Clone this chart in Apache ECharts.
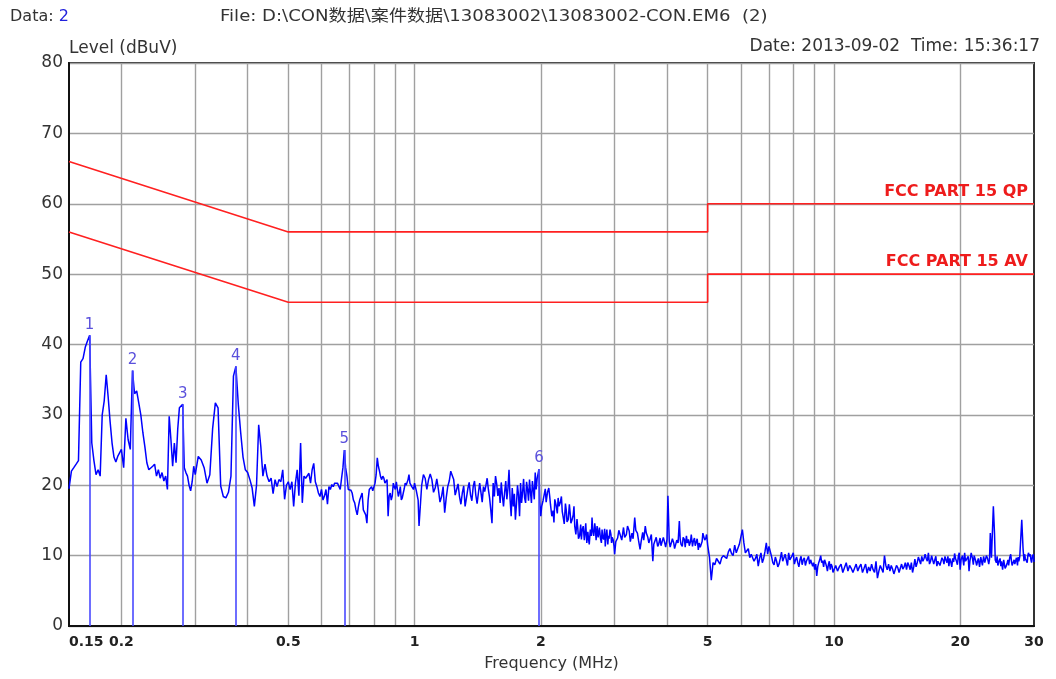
<!DOCTYPE html>
<html>
<head>
<meta charset="utf-8">
<title>Conducted emission scan</title>
<script src="https://cdn.jsdelivr.net/npm/echarts@6/dist/echarts.min.js"></script>
<style>
  html, body { margin: 0; padding: 0; background: #ffffff; }
  #chart { width: 1056px; height: 679px; }
</style>
</head>
<body>
<div id="chart"></div>
<script>
// Measured scan, [frequency MHz, level dBuV], 150 kHz - 1 MHz
const scanLow = [
  [0.150,19.5],[0.152,22.0],[0.154,22.5],[0.156,23.0],[0.158,23.5],[0.160,37.5],[0.162,38.0],[0.164,39.6],
  [0.166,40.5],[0.168,41.3],[0.170,26.0],[0.172,23.5],[0.174,21.5],[0.176,22.2],[0.178,21.3],[0.180,30.0],
  [0.182,32.0],[0.184,35.7],[0.186,32.5],[0.188,29.0],[0.190,26.0],[0.192,24.0],[0.194,23.3],[0.196,24.1],
  [0.198,24.6],[0.200,25.1],[0.2025,22.5],[0.205,29.5],[0.2075,26.5],[0.210,25.1],[0.2125,36.3],[0.215,33.0],
  [0.2175,33.4],[0.220,31.7],[0.2225,30.0],[0.225,27.5],[0.2275,25.5],[0.230,23.2],[0.2325,22.2],[0.235,22.0],
  [0.2375,22.7],[0.240,23.0],[0.2425,21.3],[0.245,22.2],[0.2475,21.0],[0.250,21.8],[0.2525,20.6],[0.255,21.3],
  [0.2575,19.4],[0.260,29.8],[0.2625,26.5],[0.265,22.7],[0.2675,26.0],[0.270,23.2],[0.2725,28.0],[0.275,31.0],
  [0.2775,31.2],[0.280,31.5],[0.2825,22.5],[0.285,21.8],[0.2875,21.3],[0.290,20.0],[0.2925,19.2],[0.295,20.5],
  [0.2975,22.7],[0.300,21.5],[0.305,24.1],[0.310,23.6],[0.315,22.5],[0.320,20.3],[0.325,21.5],[0.330,28.0],
  [0.335,31.7],[0.340,31.0],[0.345,19.9],[0.350,18.4],[0.355,18.2],[0.360,19.0],[0.365,21.3],[0.370,35.5],
  [0.375,36.9],[0.380,31.5],[0.385,27.5],[0.390,24.0],[0.395,22.2],[0.400,21.8],[0.405,20.8],[0.410,19.6],
  [0.415,17.0],[0.420,20.0],[0.425,28.6],[0.430,25.5],[0.435,21.3],[0.440,23.0],[0.445,21.3],[0.450,20.5],
  [0.455,21.0],[0.460,18.8],[0.465,20.8],[0.470,19.8],[0.475,20.8],[0.480,20.5],[0.485,22.2],[0.490,18.0],
  [0.495,20.0],[0.500,20.5],[0.505,19.4],[0.510,20.5],[0.515,17.0],[0.520,20.3],[0.525,22.2],[0.530,18.5],
  [0.535,26.0],[0.540,17.5],[0.545,21.3],[0.550,21.0],[0.555,20.8],[0.560,21.7],[0.565,20.3],[0.570,22.2],
  [0.575,23.1],[0.580,20.5],[0.585,19.8],[0.590,18.9],[0.595,18.4],[0.600,19.4],[0.605,17.9],[0.610,18.5],
  [0.615,19.4],[0.620,17.3],[0.625,19.8],[0.630,19.4],[0.635,20.1],[0.640,19.8],[0.645,20.3],[0.650,20.5],
  [0.655,20.3],[0.660,20.1],[0.665,19.4],[0.670,21.0],[0.675,22.5],[0.680,25.0],[0.685,22.5],[0.690,21.3],
  [0.695,19.4],[0.700,19.6],[0.705,19.3],[0.710,18.9],[0.715,17.9],[0.720,17.5],[0.725,16.5],[0.730,15.8],
  [0.735,17.0],[0.740,17.9],[0.745,18.4],[0.750,18.9],[0.755,16.5],[0.760,16.3],[0.765,15.8],[0.770,14.6],
  [0.775,17.9],[0.780,19.4],[0.785,19.6],[0.790,19.8],[0.795,19.2],[0.800,19.0],[0.805,20.3],[0.810,21.5],
  [0.815,23.9],[0.820,22.7],[0.825,22.0],[0.830,21.2],[0.835,20.8],[0.840,21.3],[0.845,21.0],[0.850,20.3],
  [0.855,20.5],[0.860,20.8],[0.865,15.6],[0.870,18.5],[0.875,18.9],[0.880,17.9],[0.885,18.5],[0.890,20.3],
  [0.895,19.8],[0.900,19.4],[0.905,20.5],[0.910,20.5],[0.915,18.4],[0.920,19.0],[0.925,19.8],[0.930,17.9],
  [0.935,18.2],[0.940,18.9],[0.945,19.5],[0.950,20.3],[0.955,20.0],[0.960,19.8],[0.965,20.8],[0.970,21.5],
  [0.975,20.3],[0.980,20.3],[0.985,19.8],[0.990,19.6],[0.995,19.4]
];

// Measured scan, 1 MHz - 10 MHz
const scanMid = [
  [1.00,20.3],[1.01,19.2],[1.02,17.9],[1.025,14.2],[1.04,20.0],[1.05,21.5],[1.06,21.0],[1.07,19.4],
  [1.08,20.8],[1.09,21.6],[1.10,20.8],[1.11,19.0],[1.12,19.6],[1.13,20.9],[1.14,19.4],[1.15,17.6],
  [1.16,18.4],[1.17,19.8],[1.18,16.1],[1.19,18.2],[1.20,19.8],[1.21,20.6],[1.22,22.0],[1.23,21.4],
  [1.24,20.8],[1.25,18.6],[1.26,19.4],[1.27,20.2],[1.28,18.4],[1.29,17.3],[1.30,18.9],[1.31,19.9],
  [1.32,17.0],[1.33,18.2],[1.34,19.5],[1.35,20.4],[1.36,18.6],[1.37,17.8],[1.38,19.8],[1.39,20.6],
  [1.40,18.6],[1.41,17.4],[1.42,18.9],[1.43,20.3],[1.44,19.0],[1.45,17.6],[1.46,19.8],[1.47,19.1],
  [1.48,20.0],[1.49,21.0],[1.50,19.4],[1.51,18.2],[1.52,16.5],[1.53,14.6],[1.54,20.3],[1.55,18.4],
  [1.56,21.3],[1.57,20.2],[1.58,18.5],[1.59,19.6],[1.60,17.5],[1.61,20.4],[1.62,18.5],[1.63,17.0],
  [1.64,19.0],[1.65,20.6],[1.66,18.0],[1.67,19.5],[1.68,22.2],[1.69,18.0],[1.70,15.6],[1.71,19.6],
  [1.72,17.0],[1.73,18.8],[1.74,15.1],[1.75,17.3],[1.76,20.0],[1.77,18.6],[1.78,15.6],[1.79,20.3],
  [1.80,17.5],[1.81,19.0],[1.82,20.9],[1.83,18.2],[1.84,17.5],[1.85,20.5],[1.86,19.4],[1.87,17.8],
  [1.88,20.8],[1.89,19.0],[1.90,17.5],[1.91,20.6],[1.92,19.4],[1.93,18.0],[1.94,21.8],[1.95,19.4],
  [1.96,20.9],[1.97,21.0],[1.98,22.3],[1.99,17.5],[2.00,15.6],[2.01,17.0],[2.025,17.8],[2.04,18.8],
  [2.05,19.5],[2.06,17.6],[2.075,19.0],[2.09,19.6],[2.10,18.5],[2.11,17.2],[2.125,15.6],[2.14,16.4],
  [2.15,14.7],[2.16,18.0],[2.175,17.2],[2.19,16.0],[2.20,18.2],[2.21,17.0],[2.225,17.5],[2.24,18.4],
  [2.25,16.3],[2.26,15.6],[2.275,14.5],[2.29,17.4],[2.30,16.5],[2.31,14.8],[2.325,15.1],[2.34,17.3],
  [2.35,16.1],[2.36,14.6],[2.375,15.1],[2.39,15.8],[2.40,17.0],[2.41,14.2],[2.425,13.0],[2.44,15.2],
  [2.45,14.0],[2.46,12.4],[2.475,12.8],[2.49,14.4],[2.50,12.3],[2.51,13.6],[2.525,14.2],[2.54,12.2],
  [2.55,13.2],[2.56,14.6],[2.575,11.8],[2.59,13.4],[2.60,12.3],[2.61,11.6],[2.625,13.7],[2.64,12.8],
  [2.65,15.4],[2.66,13.6],[2.675,12.8],[2.69,14.6],[2.70,13.7],[2.71,12.2],[2.725,14.2],[2.74,12.6],
  [2.75,13.2],[2.76,14.0],[2.775,12.5],[2.79,11.8],[2.80,13.7],[2.81,12.6],[2.825,12.3],[2.84,13.8],
  [2.85,11.3],[2.86,12.6],[2.875,13.7],[2.89,11.6],[2.90,12.8],[2.91,12.4],[2.925,13.7],[2.94,13.0],
  [2.95,11.8],[2.96,12.6],[2.975,12.3],[2.99,11.4],[3.00,10.2],[3.02,12.0],[3.05,12.5],[3.07,13.6],
  [3.10,13.5],[3.12,12.2],[3.15,14.0],[3.17,12.6],[3.20,13.0],[3.22,14.2],[3.25,13.5],[3.27,12.0],
  [3.30,13.2],[3.32,12.4],[3.35,15.4],[3.37,13.6],[3.40,13.2],[3.42,12.2],[3.45,10.9],[3.47,12.0],
  [3.50,13.3],[3.52,12.2],[3.55,14.2],[3.57,13.2],[3.60,12.6],[3.62,11.8],[3.65,11.8],[3.67,13.0],
  [3.70,9.2],[3.72,11.6],[3.75,11.5],[3.77,12.6],[3.80,11.3],[3.82,11.6],[3.85,12.5],[3.87,11.4],
  [3.90,11.3],[3.92,12.6],[3.95,11.8],[3.97,11.2],[4.00,12.3],[4.02,18.5],[4.05,12.0],[4.07,11.2],
  [4.10,11.3],[4.12,12.4],[4.15,11.8],[4.17,11.0],[4.20,11.1],[4.22,12.2],[4.25,11.8],[4.28,14.9],
  [4.30,12.3],[4.32,11.6],[4.35,11.3],[4.37,12.6],[4.40,12.3],[4.42,11.2],[4.45,12.8],[4.47,11.8],
  [4.50,12.3],[4.52,11.4],[4.55,12.0],[4.57,13.0],[4.60,11.3],[4.62,12.0],[4.65,12.5],[4.67,11.4],
  [4.70,11.6],[4.72,12.4],[4.75,10.8],[4.77,11.8],[4.80,11.2],[4.82,11.2],[4.85,12.0],[4.87,13.2],
  [4.90,13.0],[4.92,12.2],[4.95,12.5],[4.97,13.0],[5.00,11.5],[5.05,9.8],[5.10,6.5],[5.15,9.0],
  [5.20,8.7],[5.25,9.6],[5.30,9.2],[5.35,8.8],[5.40,9.7],[5.45,10.0],[5.50,10.2],[5.55,9.6],
  [5.60,10.5],[5.65,11.0],[5.70,10.3],[5.75,10.0],[5.80,11.5],[5.85,10.4],[5.90,10.5],[5.95,11.6],
  [6.00,11.5],[6.05,13.7],[6.10,11.8],[6.15,10.4],[6.20,10.7],[6.25,11.0],[6.30,9.7],[6.35,10.2],
  [6.40,10.4],[6.45,9.2],[6.50,9.6],[6.55,10.2],[6.60,8.5],[6.65,9.6],[6.70,10.4],[6.75,9.0],
  [6.80,9.6],[6.85,10.6],[6.90,11.8],[6.95,10.2],[7.00,11.3],[7.05,10.6],[7.10,9.9],[7.15,9.0],
  [7.20,8.7],[7.25,9.8],[7.30,9.2],[7.35,8.4],[7.40,8.8],[7.45,9.6],[7.50,10.5],[7.55,9.2],
  [7.60,9.2],[7.65,10.2],[7.70,9.4],[7.75,8.6],[7.80,10.4],[7.85,9.4],[7.90,9.2],[7.95,10.0],
  [8.00,10.4],[8.05,8.8],[8.10,9.4],[8.15,9.8],[8.20,9.0],[8.25,8.4],[8.30,9.4],[8.35,9.9],
  [8.40,8.7],[8.45,9.4],[8.50,9.7],[8.55,8.6],[8.60,9.2],[8.65,9.0],[8.70,9.9],[8.75,8.8],
  [8.80,9.4],[8.85,9.6],[8.90,8.5],[8.95,9.0],[9.00,8.0],[9.05,8.8],[9.10,7.1],[9.15,8.4],
  [9.20,9.0],[9.25,9.4],[9.30,10.0],[9.35,9.0],[9.40,9.3],[9.45,8.4],[9.50,9.4],[9.55,9.0],
  [9.60,8.5],[9.65,7.8],[9.70,8.7],[9.75,9.2],[9.80,8.0],[9.85,8.8],[9.90,8.5],[9.95,7.6]
];

// Measured scan, 10 MHz - 30 MHz
const scanHigh = [
  [10.0,7.8],[10.1,8.6],[10.2,7.8],[10.3,8.4],[10.4,8.8],[10.5,7.6],[10.6,8.3],[10.7,9.0],
  [10.8,7.8],[10.9,8.6],[11.0,8.2],[11.1,7.6],[11.2,8.2],[11.3,8.8],[11.4,7.8],[11.5,8.4],
  [11.6,8.8],[11.7,7.6],[11.8,8.2],[11.9,8.8],[12.0,7.5],[12.1,8.4],[12.2,7.8],[12.3,8.8],
  [12.4,8.0],[12.5,7.6],[12.6,9.2],[12.7,6.8],[12.8,7.8],[12.9,8.6],[13.0,8.5],[13.1,7.6],
  [13.2,10.0],[13.3,8.6],[13.4,8.0],[13.5,8.8],[13.6,7.8],[13.7,8.6],[13.8,8.1],[13.9,7.4],
  [14.0,8.0],[14.1,8.6],[14.2,8.3],[14.3,7.6],[14.4,8.2],[14.5,8.8],[14.6,8.1],[14.7,8.4],
  [14.8,9.0],[14.9,8.0],[15.0,9.0],[15.1,8.6],[15.2,8.0],[15.3,9.0],[15.4,7.6],[15.5,8.4],
  [15.6,9.5],[15.7,8.4],[15.8,9.0],[15.9,9.8],[16.0,9.3],[16.1,8.8],[16.2,9.9],[16.3,9.2],
  [16.4,9.6],[16.5,10.2],[16.6,9.6],[16.7,9.2],[16.8,10.4],[16.9,8.8],[17.0,9.2],[17.1,10.0],
  [17.2,9.4],[17.3,8.8],[17.4,9.4],[17.5,9.9],[17.6,8.5],[17.7,9.2],[17.8,9.4],[17.9,8.6],
  [18.0,8.8],[18.1,9.7],[18.2,9.4],[18.3,8.8],[18.4,9.9],[18.5,9.4],[18.6,9.0],[18.7,9.9],
  [18.8,8.5],[18.9,9.6],[19.0,9.1],[19.1,8.4],[19.2,9.6],[19.3,9.1],[19.4,10.3],[19.5,9.6],
  [19.6,9.2],[19.7,8.7],[19.8,9.9],[19.9,10.4],[20.0,8.0],[20.1,9.4],[20.25,10.0],[20.4,8.6],
  [20.5,10.4],[20.6,9.2],[20.75,9.4],[20.9,9.9],[21.0,7.8],[21.1,9.2],[21.25,10.4],[21.4,9.6],
  [21.5,8.7],[21.6,10.0],[21.75,9.4],[21.9,8.6],[22.0,9.2],[22.1,9.6],[22.25,8.4],[22.4,9.8],
  [22.5,9.2],[22.6,8.6],[22.75,9.9],[22.9,9.0],[23.0,9.0],[23.1,10.0],[23.25,9.6],[23.4,8.8],
  [23.5,9.5],[23.6,13.2],[23.75,9.7],[24.0,17.0],[24.15,13.2],[24.25,9.4],[24.4,9.0],[24.5,9.9],
  [24.6,8.6],[24.75,9.2],[24.9,9.6],[25.0,8.5],[25.1,9.2],[25.25,8.0],[25.4,9.4],[25.5,8.8],
  [25.6,8.2],[25.75,8.5],[25.9,9.0],[26.0,9.4],[26.1,8.6],[26.25,9.7],[26.4,10.2],[26.5,9.3],
  [26.6,8.6],[26.75,8.8],[26.9,9.4],[27.0,8.8],[27.1,9.2],[27.25,9.7],[27.4,8.6],[27.5,9.8],
  [27.6,9.2],[27.75,9.9],[28.05,15.1],[28.25,11.0],[28.4,9.2],[28.5,10.2],[28.6,9.6],[28.75,9.8],
  [28.9,9.0],[29.0,10.0],[29.1,10.4],[29.25,9.9],[29.4,10.2],[29.5,9.4],[29.6,9.0],[29.75,9.9],
  [29.9,10.2],[30.0,9.1]
];

// Peak markers
const markerMHz = [0.168, 0.2125, 0.28, 0.375, 0.68, 1.98];
const markerDb = [41.3, 36.3, 31.5, 36.9, 25.0, 22.3];

// FCC Part 15 limit lines, [MHz, dBuV]
const qpLimit = [[0.15, 66], [0.5, 56], [5, 56], [5, 60], [30, 60]];
const avLimit = [[0.15, 56], [0.5, 46], [5, 46], [5, 50], [30, 50]];

// Frequency axis: labelled values and grid lines
const xLabelMHz = [0.15, 0.2, 0.5, 1, 2, 5, 10, 20, 30];
const xGridMHz = [0.2, 0.3, 0.4, 0.5, 0.6, 0.7, 0.8, 0.9, 1, 2, 3, 4, 5, 6, 7, 8, 9, 10, 20];

const FONT = '"DejaVu Sans", "Noto Sans CJK SC", sans-serif';
const lg = Math.log10;
const fmtMHz = v => String(+Math.pow(10, v).toPrecision(3));

const scan = scanLow.concat(scanMid, scanHigh).map(p => [lg(p[0]), p[1]]);

function limitSeries(name, pts, color) {
  return {
    name: name,
    type: 'line',
    silent: true,
    z: 3,
    symbol: 'circle',
    symbolSize: 0,
    showSymbol: true,
    lineStyle: { color: color, width: 1.6 },
    itemStyle: { color: color },
    data: pts.map((p, i) => {
      const item = { value: [lg(p[0]), p[1]] };
      if (i === pts.length - 1) {
        item.label = {
          show: true, formatter: name, position: 'top', align: 'right',
          offset: [-6, 1], color: '#ee1c1c', fontFamily: FONT, fontSize: 16, fontWeight: 'bold'
        };
      }
      return item;
    })
  };
}

const chart = echarts.init(document.getElementById('chart'), null, { renderer: 'canvas' });

chart.setOption({
  animation: false,
  backgroundColor: '#ffffff',
  grid: {
    left: 69, right: 22, top: 63, bottom: 53,
    show: true, borderColor: '#333333', borderWidth: 2, backgroundColor: 'transparent'
  },
  xAxis: {
    type: 'value',
    min: lg(0.15),
    max: lg(30),
    axisLine: { show: true, onZero: false, lineStyle: { color: '#111111', width: 2 } },
    axisTick: { show: false, customValues: xGridMHz.map(lg) },
    splitLine: { show: true, lineStyle: { color: '#a0a0a0', width: 1.4 } },
    axisLabel: {
      customValues: xLabelMHz.map(lg),
      formatter: fmtMHz,
      alignMinLabel: 'left',
      margin: 9,
      fontFamily: FONT, fontSize: 14, fontWeight: 'bold', color: '#222222'
    },
    name: 'Frequency (MHz)',
    nameLocation: 'middle',
    nameGap: 30,
    nameTextStyle: { fontFamily: FONT, fontSize: 16, color: '#333333' }
  },
  yAxis: {
    type: 'value',
    min: 0, max: 80, interval: 10,
    axisLine: { show: true, onZero: false, lineStyle: { color: '#111111', width: 2 } },
    axisTick: { show: false },
    splitLine: { show: true, lineStyle: { color: '#a0a0a0', width: 1.4 } },
    axisLabel: { margin: 6, fontFamily: FONT, fontSize: 17, color: '#333333' },
    name: 'Level (dBuV)',
    nameLocation: 'end',
    nameGap: 6,
    nameTextStyle: { align: 'left', fontFamily: FONT, fontSize: 17, color: '#333333' }
  },
  graphic: [
    {
      type: 'text', x: 10, y: 17,
      style: {
        text: '{a|Data: }{b|2}', verticalAlign: 'middle',
        rich: {
          a: { fontFamily: FONT, fontSize: 16, fill: '#333333' },
          b: { fontFamily: FONT, fontSize: 16, fill: '#2222dd' }
        }
      }
    },
    {
      type: 'text', x: 220, y: 17, scaleX: 1.13,
      style: {
        text: 'File: D:\\CON数据\\案件数据\\13083002\\13083002-CON.EM6  (2)',
        verticalAlign: 'middle', font: '16px ' + FONT, fill: '#333333'
      }
    },
    {
      type: 'text', x: 1040, y: 47,
      style: {
        text: 'Date: 2013-09-02  Time: 15:36:17',
        align: 'right', verticalAlign: 'middle', font: '17px ' + FONT, fill: '#333333'
      }
    }
  ],
  series: [
    limitSeries('FCC PART 15 QP', qpLimit, '#ff2020'),
    limitSeries('FCC PART 15 AV', avLimit, '#ff2020'),
    {
      name: 'Scan',
      type: 'line',
      silent: true,
      z: 4,
      showSymbol: false,
      lineStyle: { color: '#0000ff', width: 1.5 },
      data: scan,
      markLine: {
        silent: true,
        symbol: ['none', 'none'],
        animation: false,
        lineStyle: { color: '#4a4aff', width: 1.6, type: 'solid' },
        label: {
          show: true, position: 'end', formatter: '{b}', distance: 3,
          fontFamily: FONT, fontSize: 15, color: '#5a50dc'
        },
        data: markerMHz.map((f, i) => [
          { coord: [lg(f), 0], name: String(i + 1) },
          { coord: [lg(f), markerDb[i]] }
        ])
      }
    }
  ]
});
</script>
</body>
</html>
